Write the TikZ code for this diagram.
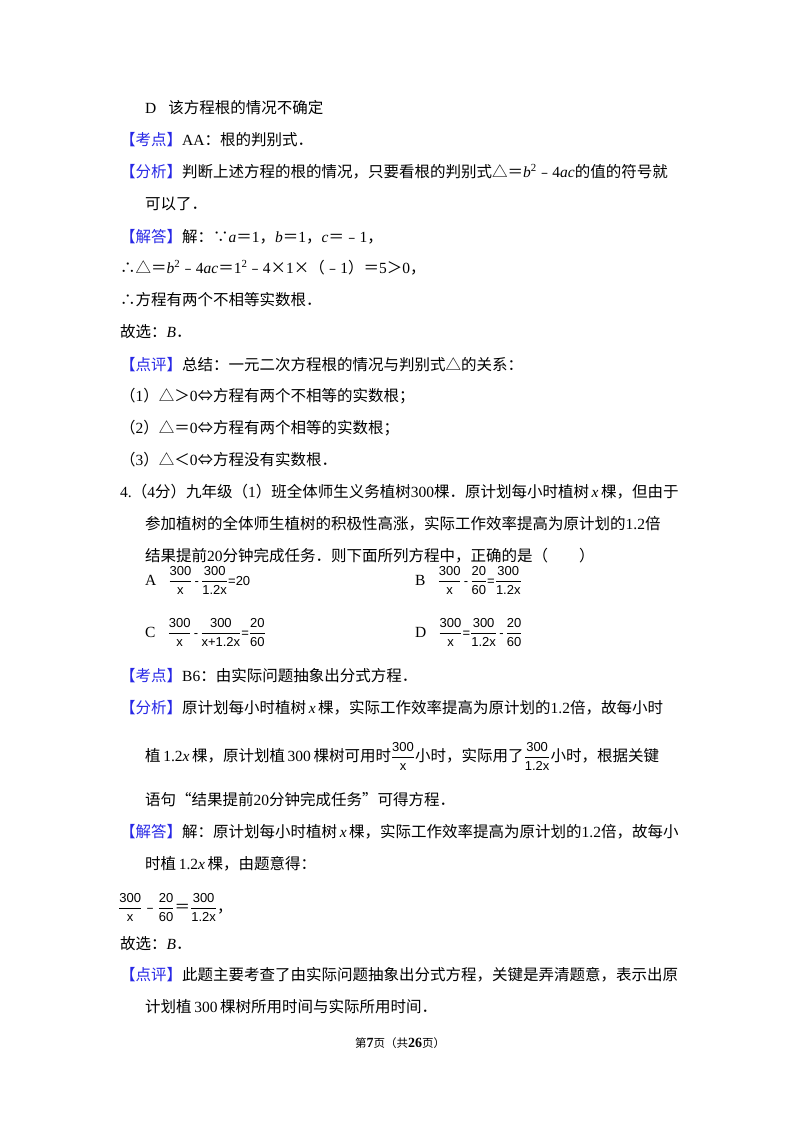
\documentclass[tikz,border=0pt]{standalone}
\usepackage{amsmath}
\usepackage{fontspec}
\setmainfont{Noto Sans CJK SC}
\newfontfamily\lat{Liberation Serif}
\newfontfamily\fs{Liberation Sans}
\definecolor{kb}{RGB}{40,40,230}
\newcommand{\La}[1]{{\lat #1}}
\newcommand{\Li}[1]{{\lat\itshape #1}}
\newcommand{\kd}[1]{{\color{kb}【#1】}}
\newcommand{\fsz}{\fs\fontsize{13}{13}\selectfont}
\newcommand{\fr}[2]{$\dfrac{\hbox{\fsz #1}}{\hbox{\fsz #2}}$}
\newcommand{\mi}{{\fsz\,-\,}}
\begin{document}
\begin{tikzpicture}[x=1pt,y=1pt,
  ln/.style={anchor=base west,inner sep=0pt,font=\fontsize{15.5}{18}\selectfont}]
\useasboundingbox[fill=white] (0,0) rectangle (800,-1132);
\node[ln] (l1) at (145,-113) {\La{D．}该方程根的情况不确定};
\node[ln] (l2) at (120,-145) {\kd{考点}\La{AA}：根的判别式．};
\node[ln] (l3) at (120,-177) {\kd{分析}判断上述方程的根的情况，只要看根的判别式△＝\Li{b}\La{\textsuperscript{2}}﹣\La{4}\Li{ac}的值的符号就};
\node[ln] (l4) at (145,-209) {可以了．};
\node[ln] (l5) at (120,-242) {\kd{解答}解：∵\Li{a}＝\La{1}，\Li{b}＝\La{1}，\Li{c}＝﹣\La{1}，};
\node[ln] (l6) at (120,-273) {∴△＝\Li{b}\La{\textsuperscript{2}}﹣\La{4}\Li{ac}＝\La{1\textsuperscript{2}}﹣\La{4}×\La{1}×（﹣\La{1}）＝\La{5}＞\La{0}，};
\node[ln] (l7) at (120,-305) {∴方程有两个不相等实数根．};
\node[ln] (l8) at (120,-337) {故选：\Li{B}．};
\node[ln] (l9) at (120,-370) {\kd{点评}总结：一元二次方程根的情况与判别式△的关系：};
\node[ln] (l10) at (120,-401) {（\La{1}）△＞\La{0}⇔方程有两个不相等的实数根；};
\node[ln] (l11) at (120,-433) {（\La{2}）△＝\La{0}⇔方程有两个相等的实数根；};
\node[ln] (l12) at (120,-465) {（\La{3}）△＜\La{0}⇔方程没有实数根．};
\node[ln] (l13) at (120,-497) {\La{4.}（\La{4}分）九年级（\La{1}）班全体师生义务植树\La{300}棵．原计划每小时植树\,\Li{x}\,棵，但由于};
\node[ln] (l14) at (145,-529) {参加植树的全体师生植树的积极性高涨，实际工作效率提高为原计划的\La{1.2}倍};
\node[ln] (l15) at (145,-561) {结果提前\La{20}分钟完成任务．则下面所列方程中，正确的是（\qquad）};
\node[ln] (oA) at (145,-585) {\La{A．}\fr{300}{x}\mi\fr{300}{1.2x}{\fsz =20}};
\node[ln] (oB) at (415,-585) {\La{B．}\fr{300}{x}\mi\fr{20}{60}{\fsz =}\fr{300}{1.2x}};
\node[ln] (oC) at (145,-637) {\La{C．}\fr{300}{x}\mi\fr{300}{x+1.2x}{\fsz =}\fr{20}{60}};
\node[ln] (oD) at (415,-637) {\La{D．}\fr{300}{x}{\fsz =}\fr{300}{1.2x}\mi\fr{20}{60}};
\node[ln] (l16) at (120,-681) {\kd{考点}\La{B6}：由实际问题抽象出分式方程．};
\node[ln] (l17) at (120,-713) {\kd{分析}原计划每小时植树\,\Li{x}\,棵，实际工作效率提高为原计划的\La{1.2}倍，故每小时};
\node[ln] (l18) at (145,-761) {植\,\La{1.2}\Li{x}\,棵，原计划植\,\La{300}\,棵树可用时\fr{300}{x}小时，实际用了\fr{300}{1.2x}小时，根据关键};
\node[ln] (l19) at (145,-805) {语句“结果提前\La{20}分钟完成任务”可得方程．};
\node[ln] (l20) at (120,-837) {\kd{解答}解：原计划每小时植树\,\Li{x}\,棵，实际工作效率提高为原计划的\La{1.2}倍，故每小};
\node[ln] (l21) at (145,-869) {时植\,\La{1.2}\Li{x}\,棵，由题意得：};
\node[ln] (l22) at (118,-912) {\fr{300}{x}﹣\fr{20}{60}＝\fr{300}{1.2x}，};
\node[ln] (l23) at (120,-949) {故选：\Li{B}．};
\node[ln] (l24) at (120,-980) {\kd{点评}此题主要考查了由实际问题抽象出分式方程，关键是弄清题意，表示出原};
\node[ln] (l25) at (145,-1012) {计划植\,\La{300}\,棵树所用时间与实际所用时间．};
\node[anchor=base,inner sep=0pt,font=\fontsize{11.5}{13}\selectfont] (ft) at (400,-1047) {第{\lat\bfseries\fontsize{14}{14}\selectfont 7}页（共{\lat\bfseries\fontsize{14}{14}\selectfont 26}页）};
\end{tikzpicture}
\end{document}
